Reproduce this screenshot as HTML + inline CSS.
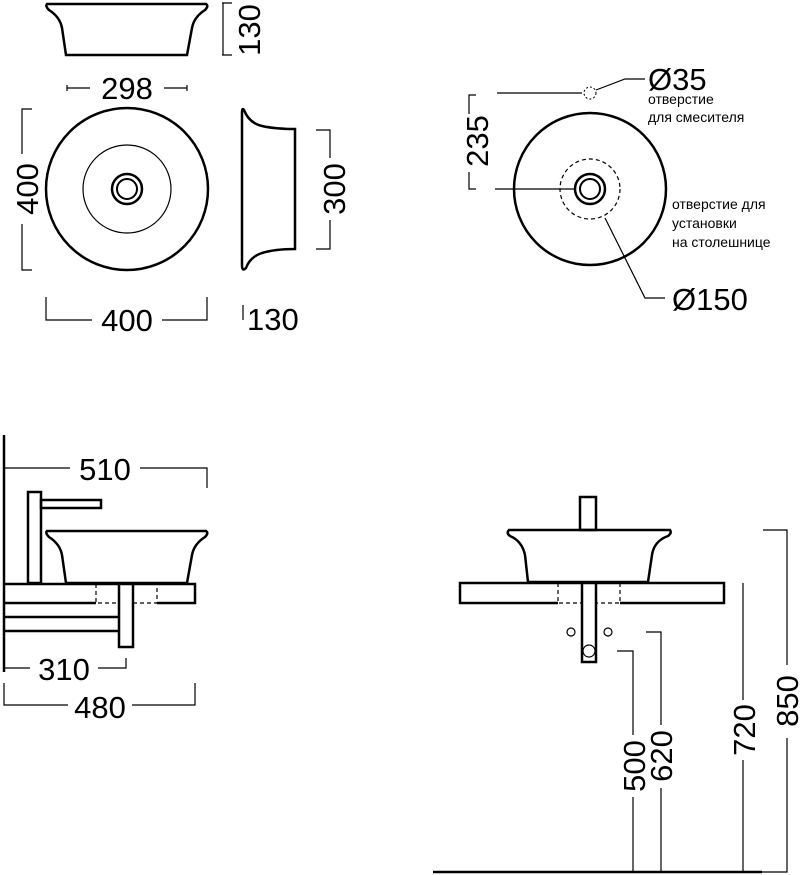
<!DOCTYPE html>
<html><head><meta charset="utf-8"><style>
html,body{margin:0;padding:0;background:#fff;width:800px;height:875px;overflow:hidden}
text{font-family:"Liberation Sans",sans-serif;fill:#000}
.n{font-size:31px}
.s{font-size:14px}
</style></head><body>
<svg width="800" height="875" viewBox="0 0 800 875" xmlns="http://www.w3.org/2000/svg" fill="none" stroke="#000">
<!-- top-left side view -->
<path d="M47,4 L206,4 Q209,6 205,10 Q194,17 192,28 L187,55 L66,55 L62,28 Q60,17 49,10 Q45,6 47,4 Z" stroke-width="2.5"/>
<path d="M223,3 L223,55 M222,3 L232,3 M222,55 L232,55" stroke-width="1.2"/>
<text class="n" stroke="none" transform="translate(260,30) rotate(-90)" text-anchor="middle">130</text>
<path d="M67,88 L90,88 M164,88 L187,88 M67,85 L67,91 M187,85 L187,91" stroke-width="1.2"/>
<text class="n" x="127" y="99" stroke="none" text-anchor="middle">298</text>
<!-- top view -->
<circle cx="127" cy="189" r="81" stroke-width="2.5"/>
<circle cx="127" cy="189" r="44" stroke-width="1.2"/>
<circle cx="127" cy="189" r="15" stroke-width="2.5"/>
<circle cx="127" cy="189" r="10" stroke-width="2"/>
<path d="M32,109 L22,109 L22,154 M22,224 L22,270 L32,270" stroke-width="1.2"/>
<text class="n" stroke="none" transform="translate(38,189) rotate(-90)" text-anchor="middle">400</text>
<!-- right side view -->
<path d="M244,110 Q249,123 262,126 Q275,129 295,129 L295,249 Q275,249 262,253 Q250,257 246,268 Q242,272 242,265 L242,113 Q242,107 244,110 Z" stroke-width="2.5"/>
<path d="M316,130 L330,130 L330,158 M330,220 L330,249 L316,249" stroke-width="1.2"/>
<text class="n" stroke="none" transform="translate(345,189) rotate(-90)" text-anchor="middle">300</text>
<path d="M46,297 L46,320 L92,320 M162,320 L207,320 L207,297" stroke-width="1.2"/>
<text class="n" x="127" y="331" stroke="none" text-anchor="middle">400</text>
<path d="M243,305 L243,320" stroke-width="1.2"/>
<text class="n" x="247" y="330" stroke="none">130</text>
<!-- top right view -->
<circle cx="590" cy="189" r="76" stroke-width="2.5"/>
<circle cx="590" cy="189" r="30" stroke-width="1.2" stroke-dasharray="4,3"/>
<circle cx="590" cy="189" r="15" stroke-width="2.5"/>
<circle cx="590" cy="189" r="10" stroke-width="2"/>
<circle cx="590" cy="93" r="6" stroke-width="1" stroke-dasharray="2,2"/>
<path d="M497,93 L582,93 M596,90 L625,79 L645,79" stroke-width="1.2"/>
<path d="M495,189 L575,189 M605,218 L645,298 L665,298" stroke-width="1.2"/>
<path d="M476,95 L469,95 L469,114 M469,172 L469,189 L476,189" stroke-width="1.2"/>
<text class="n" stroke="none" transform="translate(488,141) rotate(-90)" text-anchor="middle">235</text>
<text class="n" x="648" y="90" stroke="none">Ø35</text>
<text class="s" x="648" y="104" stroke="none">отверстие</text>
<text class="s" x="648" y="122" stroke="none">для смесителя</text>
<text class="s" x="672" y="209" stroke="none">отверстие для</text>
<text class="s" x="672" y="228" stroke="none">установки</text>
<text class="s" x="672" y="247" stroke="none">на столешнице</text>
<text class="n" x="672" y="310" stroke="none">Ø150</text>
<!-- bottom left -->
<path d="M4,435 L4,672" stroke-width="2.5"/>
<path d="M4,468 L70,468 M140,468 L207,468 L207,488" stroke-width="1.2"/>
<text class="n" x="105" y="480" stroke="none" text-anchor="middle">510</text>
<rect x="28" y="492" width="13" height="91" stroke-width="2.5"/>
<rect x="41" y="500" width="60" height="8" stroke-width="2.5"/>
<path d="M47,531 L206,531 Q209,533 205,537 Q194,544 192,555 L187,583 L66,583 L62,555 Q60,544 49,537 Q45,533 47,531 Z" stroke-width="2.5"/>
<path d="M3,584 L195,584 L195,603 L157,603 M96,603 L3,603" stroke-width="2.5"/>
<path d="M96,584 L96,603 L157,603 L157,584" stroke-width="1.2" stroke-dasharray="4,3"/>
<path d="M3,617 L119,617 M3,631 L119,631" stroke-width="2.5"/>
<rect x="119" y="584" width="14" height="63" stroke-width="2.5" fill="#fff"/>
<path d="M4,668 L30,668 M98,668 L126,668 L126,658" stroke-width="1.2"/>
<text class="n" x="64" y="680" stroke="none" text-anchor="middle">310</text>
<path d="M4,683 L4,705 L68,705 M132,705 L195,705 L195,683" stroke-width="1.2"/>
<text class="n" x="100" y="718" stroke="none" text-anchor="middle">480</text>
<!-- bottom right -->
<rect x="580" y="497" width="16" height="33" stroke-width="2.5"/>
<path d="M509,530 L670,530 Q672,533 668,536 Q654,541 652,555 L648,582 L528,582 L525,555 Q522,541 510,536 Q506,533 509,530 Z" stroke-width="2.5"/>
<path d="M558,603 L460,603 L460,583 L724,583 L724,603 L620,603" stroke-width="2.5"/>
<path d="M558,583 L558,603 L620,603 L620,583" stroke-width="1.2" stroke-dasharray="4,3"/>
<rect x="582" y="583" width="14" height="79" stroke-width="2.5" fill="#fff"/>
<circle cx="571" cy="632" r="4" stroke-width="1.2"/>
<circle cx="608" cy="632" r="4" stroke-width="1.2"/>
<circle cx="589" cy="651" r="6" stroke-width="1.2"/>
<path d="M617,651 L633,651 L633,735 M633,797 L633,872" stroke-width="1.2"/>
<path d="M646,632 L661,632 L661,725 M661,788 L661,872" stroke-width="1.2"/>
<path d="M743,583 L743,700 M743,760 L743,872" stroke-width="1.2"/>
<path d="M763,530 L787,530 L787,665 M787,738 L787,872 L762,872" stroke-width="1.2"/>
<path d="M433,872 L762,872" stroke-width="2.5"/>
<text class="n" stroke="none" transform="translate(645,766) rotate(-90)" text-anchor="middle">500</text>
<text class="n" stroke="none" transform="translate(672,756) rotate(-90)" text-anchor="middle">620</text>
<text class="n" stroke="none" transform="translate(755,730) rotate(-90)" text-anchor="middle">720</text>
<text class="n" stroke="none" transform="translate(798,701) rotate(-90)" text-anchor="middle">850</text>
</svg>
</body></html>
